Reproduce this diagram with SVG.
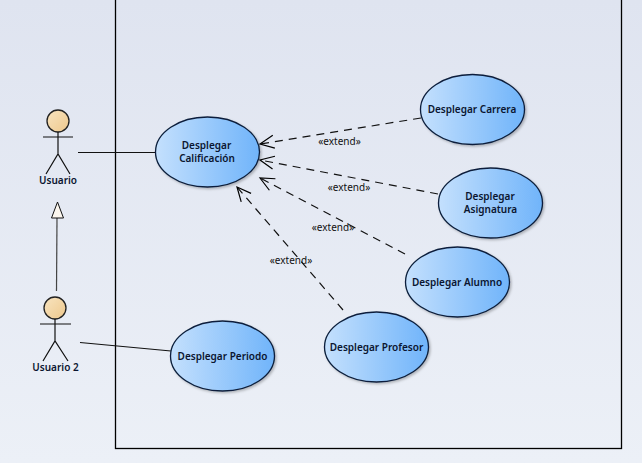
<svg xmlns="http://www.w3.org/2000/svg" width="642" height="463" viewBox="0 0 642 463">
<defs>
<linearGradient id="bg" x1="0" y1="0" x2="0" y2="1"><stop offset="0" stop-color="#dfe4f0"/><stop offset="1" stop-color="#ecf0f7"/></linearGradient>
<linearGradient id="uc" x1="0" y1="0" x2="1" y2="0"><stop offset="0" stop-color="#c4e0fd"/><stop offset="1" stop-color="#70b4fa"/></linearGradient>
<linearGradient id="hd" x1="0" y1="0" x2="1" y2="1"><stop offset="0" stop-color="#f8e4c0"/><stop offset="1" stop-color="#eec88c"/></linearGradient>
<filter id="sh" x="-10%" y="-10%" width="125%" height="125%"><feDropShadow dx="1.5" dy="1.5" stdDeviation="1.2" flood-color="#000" flood-opacity="0.25"/></filter>
<marker id="open" markerUnits="userSpaceOnUse" markerWidth="18" markerHeight="18" refX="16" refY="9" orient="auto"><path d="M2 2.500L16 9L2 15.500" fill="none" stroke="#000" stroke-width="1.2"/></marker>
</defs>
<style>
.uc{fill:url(#uc);stroke:#0c1f3c;stroke-width:1.3;filter:url(#sh)}
.t{font-family:"Noto Sans","DejaVu Sans",sans-serif;font-size:10px;font-weight:600;fill:#0a1530;text-anchor:middle}
.l{font-family:"Noto Sans","DejaVu Sans",sans-serif;font-size:10px;fill:#111;text-anchor:middle}
.a{fill:none;stroke:#111;stroke-width:1.2}
.head{fill:url(#hd);stroke:#222;stroke-width:1.3}
.d{fill:none;stroke:#111;stroke-width:1.2;stroke-dasharray:8 6;marker-end:url(#open)}
.s{fill:none;stroke:#111;stroke-width:1.2}
</style>
<rect width="642" height="463" fill="url(#bg)"/>
<rect id="boundary" x="115.500" y="-5" width="506" height="453.500" fill="none" stroke="#000" stroke-width="1.3"/>
<g id="connectors">
<path class="s" d="M78 152.500H155"/>
<path class="s" d="M80 342.500L171 351"/>
<path d="M56.500 291L57 218" fill="none" stroke="#444" stroke-width="1.2"/>
<path d="M57.500 202L51.500 218H63.500Z" fill="#fbf6ee" stroke="#111" stroke-width="1"/>
<path class="d" d="M421 118L260 144"/>
<path class="d" d="M438 194L260 160"/>
<path class="d" d="M405 254L260 178"/>
<path class="d" d="M343 310L237 187"/>
<text class="l" x="339.500" y="145">«extend»</text>
<text class="l" x="349" y="191">«extend»</text>
<text class="l" x="333" y="231">«extend»</text>
<text class="l" x="291" y="264">«extend»</text>
</g>
<g id="usuario">
<circle class="head" cx="58" cy="121" r="11"/>
<path class="a" d="M43 137H73M58 132V154M46 174L58 154L70 174"/>
<text class="t" x="58" y="184">Usuario</text>
</g>
<g id="usuario2">
<circle class="head" cx="55" cy="308" r="11"/>
<path class="a" d="M40 324H71M55 319V341M43 361L55 341L68 361"/>
<text class="t" x="55.500" y="371">Usuario 2</text>
</g>
<g id="calificacion"><ellipse class="uc" cx="207.500" cy="152" rx="52" ry="35"/><text class="t" x="206.500" y="149">Desplegar</text><text class="t" x="207" y="162">Calificación</text></g>
<g id="carrera"><ellipse class="uc" cx="472.500" cy="109.500" rx="52" ry="35"/><text class="t" x="472" y="113">Desplegar Carrera</text></g>
<g id="asignatura"><ellipse class="uc" cx="490.500" cy="203" rx="52" ry="35"/><text class="t" x="490" y="200">Desplegar</text><text class="t" x="490.500" y="213">Asignatura</text></g>
<g id="alumno"><ellipse class="uc" cx="457.500" cy="282" rx="52" ry="35"/><text class="t" x="457" y="285.500">Desplegar Alumno</text></g>
<g id="profesor"><ellipse class="uc" cx="376.500" cy="347" rx="52" ry="35"/><text class="t" x="376.500" y="350.500">Desplegar Profesor</text></g>
<g id="periodo"><ellipse class="uc" cx="222.500" cy="356" rx="52" ry="35"/><text class="t" x="222.500" y="359.500">Desplegar Periodo</text></g>
</svg>
